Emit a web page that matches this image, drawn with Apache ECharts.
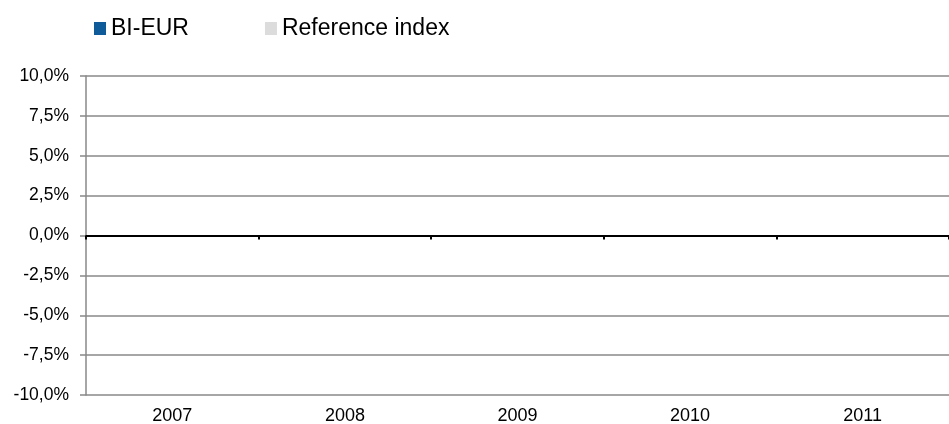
<!DOCTYPE html>
<html>
<head>
<meta charset="utf-8">
<script src="https://cdn.jsdelivr.net/npm/echarts@6/dist/echarts.min.js"></script>
<style>
html,body{margin:0;padding:0;background:#fff;}
#c{width:949px;height:424px;}
</style>
</head>
<body>
<div id="c"></div>
<script>
const categories = ['2007', '2008', '2009', '2010', '2011'];
const biEur = [0, 0, 0, 0, 0];
const referenceIndex = [0, 0, 0, 0, 0];
const yTicks = [-10, -7.5, -5, -2.5, 0, 2.5, 5, 7.5, 10];

const chart = echarts.init(document.getElementById('c'), null, {renderer: 'canvas'});
const font = 'Liberation Sans, Arial, sans-serif';
chart.setOption({
  animation: false,
  backgroundColor: '#fff',
  textStyle: {fontFamily: font},
  legend: {
    left: 94, top: 17, padding: 0,
    itemWidth: 12, itemHeight: 13, itemGap: 76,
    icon: 'rect',
    textStyle: {fontFamily: font, fontSize: 23, color: '#000'},
    data: ['BI-EUR', 'Reference index']
  },
  grid: {left: 86, right: 0, top: 76, bottom: 29, containLabel: false, outerBoundsMode: 'none'},
  xAxis: [{
    type: 'category', data: categories, position: 'bottom',
    axisLine: {onZero: false, show: false},
    axisTick: {show: false},
    axisLabel: {fontFamily: font, fontSize: 18, color: '#000', margin: 12}
  }, {
    type: 'category', data: categories, position: 'bottom',
    axisLine: {onZero: true, show: true, lineStyle: {color: '#000', width: 2}},
    axisTick: {show: true, length: 4, alignWithLabel: false, lineStyle: {color: '#000', width: 2}},
    axisLabel: {show: false}
  }],
  yAxis: {
    type: 'value', min: -10, max: 10, interval: 2.5,
    axisLine: {show: true, lineStyle: {color: '#888', width: 1.5}},
    axisTick: {show: true, length: 6, lineStyle: {color: '#888', width: 1.5}},
    splitLine: {show: true, lineStyle: {color: '#888', width: 1.5}},
    axisLabel: {
      fontFamily: font, fontSize: 17.5, color: '#000', margin: 17,
      formatter: v => (yTicks.includes(v) ? v.toFixed(1).replace('.', ',') + '%' : '')
    }
  },
  series: [{
    name: 'BI-EUR', type: 'bar', data: biEur, xAxisIndex: 0,
    itemStyle: {color: '#0f5a99'}, barGap: '0%', barWidth: 40
  }, {
    name: 'Reference index', type: 'bar', data: referenceIndex, xAxisIndex: 0,
    itemStyle: {color: '#dcdcdc'}, barWidth: 40
  }]
});
</script>
</body>
</html>
